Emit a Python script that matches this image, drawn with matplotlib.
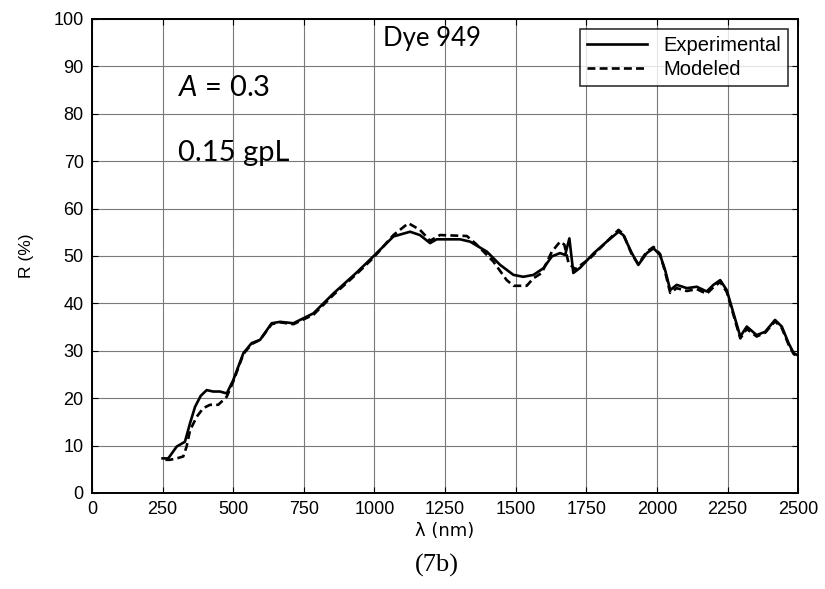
import matplotlib
matplotlib.use("Agg")
import matplotlib.pyplot as plt

plt.rcParams['mathtext.fontset'] = 'custom'
plt.rcParams['mathtext.it'] = 'Lato:italic'
plt.rcParams['mathtext.rm'] = 'Lato'

# --- datos ---
wl_exp = [250, 270, 300, 329, 347, 365, 385, 406, 429, 453, 477, 500, 536, 565, 595, 636, 666,
          713, 784, 855, 937, 996, 1067, 1126, 1161, 1197, 1220, 1303, 1339, 1398, 1445, 1492,
          1527, 1563, 1598, 1628, 1657, 1675, 1690, 1704, 1728, 1775, 1822, 1864, 1881, 1911,
          1934, 1964, 1988, 2011, 2029, 2047, 2070, 2106, 2141, 2176, 2200, 2224, 2247, 2271,
          2295, 2318, 2353, 2383, 2418, 2442, 2466, 2484, 2500]
r_exp = [7.3, 7.3, 9.8, 10.8, 14.7, 18.2, 20.5, 21.7, 21.4, 21.4, 21.0, 23.8, 29.5, 31.6, 32.3,
         35.8, 36.1, 35.8, 37.9, 42.1, 46.5, 49.9, 54.1, 55.1, 54.4, 52.7, 53.5, 53.5, 53.0,
         50.9, 48.1, 46.0, 45.6, 46.0, 47.4, 49.9, 50.6, 50.2, 53.7, 46.4, 47.5, 50.5, 53.0,
         55.1, 54.4, 50.6, 48.1, 50.6, 51.6, 50.2, 47.0, 42.8, 43.9, 43.2, 43.5, 42.5, 43.9,
         44.9, 42.8, 37.9, 33.0, 35.1, 33.3, 34.0, 36.5, 35.1, 31.6, 29.5, 29.0]

wl_mod = [260, 276, 300, 323, 335, 347, 371, 394, 418, 447, 477, 500, 536, 565, 595, 636, 666,
          713, 784, 855, 937, 996, 1067, 1120, 1161, 1197, 1232, 1327, 1360, 1421, 1468, 1492,
          1539, 1563, 1592, 1628, 1657, 1672, 1687, 1710, 1763, 1822, 1864, 1881, 1911, 1934,
          1964, 1988, 2011, 2029, 2047, 2070, 2106, 2141, 2176, 2200, 2224, 2247, 2271, 2295,
          2318, 2353, 2383, 2418, 2442, 2466, 2484, 2500]
r_mod = [7.0, 7.0, 7.3, 7.7, 9.8, 13.2, 16.1, 17.9, 18.6, 18.6, 20.3, 23.5, 29.3, 31.4, 32.3,
         35.6, 36.0, 35.6, 37.6, 41.8, 46.2, 49.6, 54.4, 56.9, 55.5, 53.2, 54.4, 54.2, 52.5,
         48.8, 44.9, 43.7, 43.7, 45.3, 46.4, 50.9, 53.0, 52.4, 48.5, 47.2, 49.5, 53.0, 55.5,
         54.6, 50.3, 48.3, 50.9, 51.9, 50.4, 46.6, 42.2, 43.2, 42.6, 43.0, 42.0, 43.4, 44.5,
         42.4, 37.5, 32.6, 34.6, 33.0, 33.8, 36.2, 34.8, 31.3, 29.3, 28.8]

xticks = [0, 250, 500, 750, 1000, 1250, 1500, 1750, 2000, 2250, 2500]
yticks = [0, 10, 20, 30, 40, 50, 60, 70, 80, 90, 100]

fig = plt.figure(figsize=(8.25, 5.89), dpi=100)
ax = fig.add_axes([0.1115, 0.163, 0.856, 0.805])

ax.plot(wl_exp, r_exp, color='black', lw=1.9, ls='-', label='Experimental', zorder=3)
ax.plot(wl_mod, r_mod, color='black', lw=1.9, ls=(0, (3.0, 1.6)), label='Modeled', zorder=3)

ax.set_xlim(0, 2500)
ax.set_ylim(0, 100)
ax.set_xticks(xticks)
ax.set_yticks(yticks)
ax.grid(True, color='#7a7a7a', lw=0.8)
ax.tick_params(direction='in', length=4, top=True, right=True, labelsize=13, pad=6)
for lab in ax.get_xticklabels() + ax.get_yticklabels():
    lab.set_family('Liberation Sans')
for s in ax.spines.values():
    s.set_linewidth(1.4)

ax.set_xlabel('λ (nm)', fontsize=13, family='DejaVu Sans', labelpad=3)
ax.set_ylabel('R (%)', fontsize=12.5, family='Liberation Sans', labelpad=14)

leg = ax.legend(loc='upper right', frameon=True, fancybox=False,
                edgecolor='black', handlelength=3.0, borderaxespad=0.5,
                borderpad=0.35, labelspacing=0.25,
                prop={'family': 'Liberation Sans', 'size': 14.5})
leg.get_frame().set_linewidth(1.2)

ax.text(1204, 95.8, 'Dye 949', fontsize=18.5, family='Lato', ha='center', va='center')
ax.text(305, 85.4, '$A$ = 0.3', fontsize=21, family='Lato', ha='left', va='center')
ax.text(305, 71.7, '0.15 gpL', fontsize=21, family='Lato', ha='left', va='center')

fig.text(0.53, 0.04, '(7b)', fontsize=19, family='Liberation Serif', ha='center', va='center')

fig.savefig('out.png', dpi=100, facecolor='white')
